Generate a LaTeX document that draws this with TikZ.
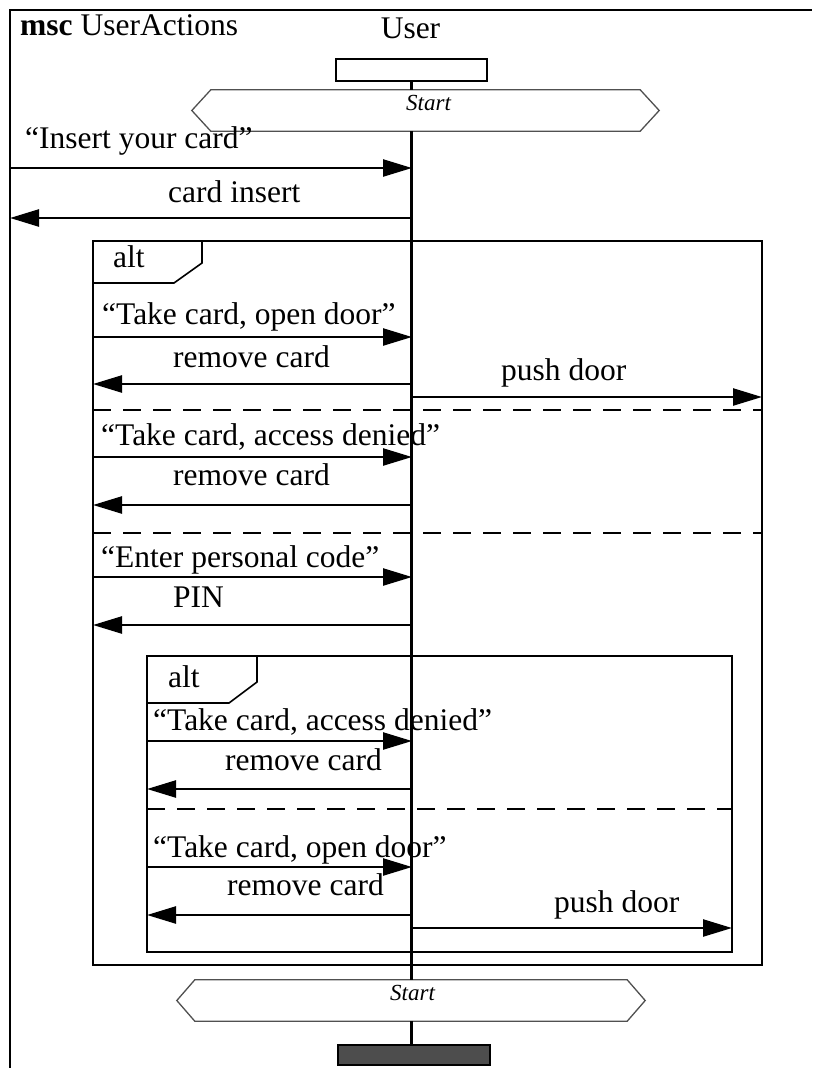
\documentclass[tikz,border=0pt]{standalone}
\usepackage{fontspec}
\setmainfont{Liberation Serif}
\usepackage{tikz}
\usetikzlibrary{arrows.meta}
\definecolor{endfill}{HTML}{4D4D4D}
\definecolor{condline}{HTML}{505050}

\begin{document}
\begin{tikzpicture}[
    x=1pt, y=-1pt,
    frameline/.style={line width=2.4pt},
    tabline/.style={line width=1.6pt},
    altsep/.style={line width=2pt, dash pattern=on 18pt off 12pt},
    lifeline/.style={line width=2.4pt},
    msg/.style={line width=2.4pt, -{Triangle[length=29pt,width=17pt]}},
    msgtext/.style={font=\fontsize{31.5}{36}\selectfont, inner sep=0pt, anchor=base west},
    condtext/.style={font=\fontsize{23}{26}\selectfont\itshape, inner sep=0pt, anchor=base west},
    instbox/.style={draw, line width=2.4pt, minimum width=151pt, minimum height=22pt, inner sep=0pt},
    condbox/.style={minimum height=41pt, inner sep=0pt},
    condshape/.style={draw=condline, line width=1.3pt}
  ]
    \useasboundingbox (0,0) rectangle (812,1068);

    % frame of the chart
    \draw[frameline] (10,1068) -- (10,10) -- (812,10);
    \node[msgtext] (title) at (20,35) {\textbf{msc} UserActions};

    % instance User
    \node[msgtext, anchor=base] (user) at (410.5,38) {User};
    \node[instbox] (head) at (411.5,70) {};
    \node[condbox, minimum width=467pt] (cond1) at (425.5,110.5) {};
    \node[condbox, minimum width=468pt] (cond2) at (411,1000.5) {};
    \node[instbox, fill=endfill, minimum width=152pt, minimum height=20pt] (stop) at (414,1055) {};
    \draw[condshape] (cond1.west) -- ([xshift=19pt]cond1.north west) -- ([xshift=-19pt]cond1.north east)
      -- (cond1.east) -- ([xshift=-19pt]cond1.south east) -- ([xshift=19pt]cond1.south west) -- cycle;
    \draw[condshape] (cond2.west) -- ([xshift=18pt]cond2.north west) -- ([xshift=-18pt]cond2.north east)
      -- (cond2.east) -- ([xshift=-18pt]cond2.south east) -- ([xshift=18pt]cond2.south west) -- cycle;
    \node[condtext] (start1) at (406,110) {Start};
    \node[condtext] (start2) at (390,1000) {Start};
    \draw[lifeline] (head.south) -- (head.south |- cond1.north);
    \draw[lifeline] (head.south |- cond1.south) -- (head.south |- cond2.north);
    \draw[lifeline] (head.south |- cond2.south) -- (head.south |- stop.north);

    % alt frames
    \draw[frameline] (93,241) rectangle (762,965);
    \draw[tabline] (93,283) -- (174,283) -- (202,263) -- (202,241);
    \node[msgtext] (alt1) at (113,267) {alt};
    \draw[altsep] (93,410) -- (762,410);
    \draw[altsep] (93,533) -- (762,533);
    \draw[frameline] (147,656) rectangle (732,952);
    \draw[tabline] (147,703) -- (229,703) -- (257,682) -- (257,656);
    \node[msgtext] (alt2) at (168,687) {alt};
    \draw[altsep] (147,809) -- (732,809);

    % messages
    \foreach \n/\xa/\xb/\y in {1/10/412/168, 2/412/10/218, 3/93/412/337, 4/412/93/384,
        5/412/762/397, 6/93/412/457, 7/412/93/505, 8/93/412/577, 9/412/93/625,
        10/147/412/741, 11/412/147/789, 12/147/412/867, 13/412/147/915, 14/412/732/928} {
      \coordinate (m\n-a) at (\xa,\y);
      \coordinate (m\n-b) at (\xb,\y);
      \draw[msg] (m\n-a) -- (m\n-b);
    }

    % message labels
    \node[msgtext] (l1) at (25,148) {“Insert your card”};
    \node[msgtext] (l2) at (168,202) {card insert};
    \node[msgtext] (l3) at (102,324) {“Take card, open door”};
    \node[msgtext] (l4) at (173,367) {remove card};
    \node[msgtext] (l5) at (501,380) {push door};
    \node[msgtext] (l6) at (101,445) {“Take card, access denied”};
    \node[msgtext] (l7) at (173,485) {remove card};
    \node[msgtext] (l8) at (101,567) {“Enter personal code”};
    \node[msgtext] (l9) at (173,607) {PIN};
    \node[msgtext] (l10) at (153,730) {“Take card, access denied”};
    \node[msgtext] (l11) at (225,770) {remove card};
    \node[msgtext] (l12) at (153,857) {“Take card, open door”};
    \node[msgtext] (l13) at (227,895) {remove card};
    \node[msgtext] (l14) at (554,912) {push door};
  \end{tikzpicture}
\end{document}
